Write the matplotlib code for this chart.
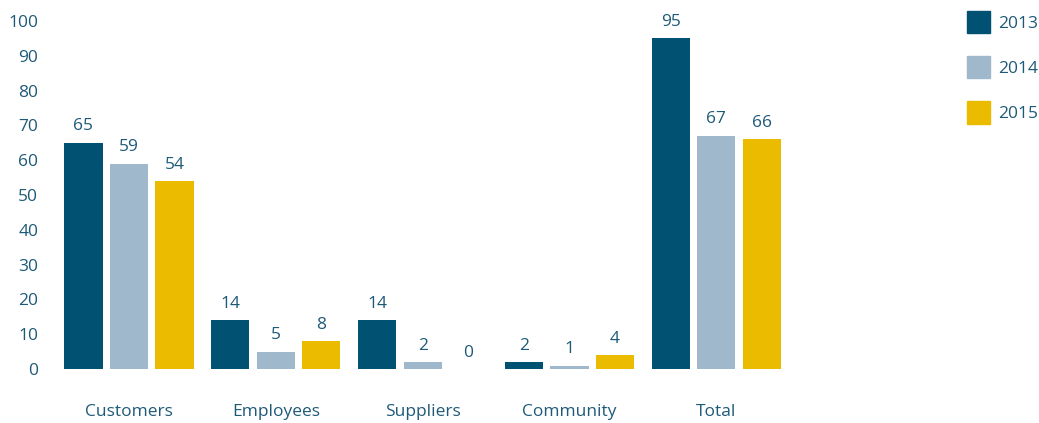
import numpy as np
import matplotlib
matplotlib.use('Agg')
import matplotlib.pyplot as plt
from matplotlib.patches import Patch

categories = ['Customers', 'Employees', 'Suppliers', 'Community', 'Total']
years = ['2013', '2014', '2015']
v2013 = [65, 14, 14, 2, 95]
v2014 = [59, 5, 2, 1, 67]
v2015 = [54, 8, 0, 4, 66]
yticks = [0, 10, 20, 30, 40, 50, 60, 70, 80, 90, 100]

colors = ['#005172', '#a0b8cc', '#ebbb00']
txt = '#1e5a78'
plt.rcParams['font.family'] = ['Open Sans', 'DejaVu Sans']
fs = 12.5

W, H = 1039, 423
fig = plt.figure(figsize=(W/100, H/100), dpi=100)
# axes: left 55px, right 800px, y=0 at 369px, y=100 at 21px
ax = fig.add_axes([55/W, 1-369/H, (800-55)/W, (369-21)/H])
x = np.arange(len(categories))
off, bw = 0.31, 0.26
for i, (vals, c) in enumerate(zip([v2013, v2014, v2015], colors)):
    xs = x + (i-1)*off
    ax.bar(xs, vals, width=bw, color=c, label=years[i])
    for xx, v in zip(xs, vals):
        ax.text(xx, v+2.4, str(v), ha='center', va='bottom', fontsize=fs, color=txt)

ax.set_xlim(-0.504, 4.57)
ax.set_ylim(0, 100)
ax.set_yticks(yticks)
ax.set_xticks(x)
ax.set_xticklabels(categories)
for s in ax.spines.values():
    s.set_visible(False)
ax.tick_params(axis='y', length=0, pad=12, labelsize=fs, labelcolor=txt)
ax.tick_params(axis='x', length=0, pad=25, labelsize=fs, labelcolor=txt)

handles = [Patch(color=c) for c in colors]
leg = fig.legend(handles, years, loc='upper left', bbox_to_anchor=(960/W, 1-4/H),
                 frameon=False, fontsize=fs, handlelength=1.3, handleheight=1.6,
                 labelspacing=1.32, handletextpad=0.5, borderaxespad=0)
for t in leg.get_texts():
    t.set_color(txt)

fig.savefig('out.png', dpi=100)
